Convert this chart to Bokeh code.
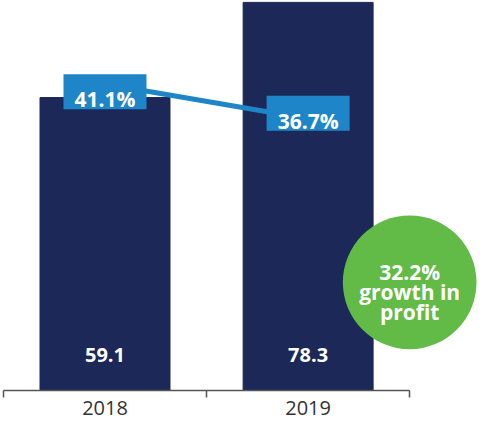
from bokeh.plotting import figure
from bokeh.models import Range1d, FixedTicker
from bokeh.embed import file_html
from bokeh.resources import INLINE
from bokeh.core.properties import value

# ---- data ----
years = ["2018", "2019"]
revenue = [59.1, 78.3]
margin = [41.1, 36.7]
margin_labels = ["41.1%", "36.7%"]
revenue_labels = ["59.1", "78.3"]
growth_lines = ["32.2%", "growth in", "profit"]

# ---- style ----
NAVY = "#1b2858"
BLUE = "#1e86c8"
GREEN = "#62ba47"
FONT = value("Open Sans")

x_pos = [0.5, 1.5]          # category centres
FRAME_H_EST = 390
PCT_RANGE = (2.47, 51.61)
pct_px = FRAME_H_EST / (PCT_RANGE[1] - PCT_RANGE[0])
box_shift_px = [7.8, -5.7]   # label boxes sit slightly off the line points
box_y = [m - s / pct_px for m, s in zip(margin, box_shift_px)]

p = figure(width=477, height=424,
           output_backend="svg", toolbar_location=None,
           x_range=Range1d(-0.0145, 2.334), y_range=Range1d(0, 78.68),
           min_border=0, min_border_bottom=34, outline_line_color=None,
           y_axis_location=None, background_fill_color=None,
           border_fill_color=None)
p.extra_y_ranges = {"pct": Range1d(*PCT_RANGE)}
p.grid.visible = False

ax = p.xaxis[0]
ax.ticker = FixedTicker(ticks=x_pos, minor_ticks=[0, 1, 2])
ax.major_label_overrides = dict(zip(x_pos, years))
ax.bounds = (0, 2)
ax.major_tick_out = 0
ax.major_tick_in = 0
ax.minor_tick_out = 7
ax.minor_tick_in = 0
ax.minor_tick_line_color = "#555555"
ax.minor_tick_line_width = 1.5
ax.axis_line_color = "#555555"
ax.axis_line_width = 1.5
ax.major_label_text_font = "Open Sans"
ax.major_label_text_font_size = "20px"
ax.major_label_text_color = "#333333"
ax.major_label_standoff = 3

# bars
p.vbar(x=x_pos, top=revenue, width=0.64, color=NAVY)

# bar value labels
p.text(x=x_pos, y=[0, 0], text=revenue_labels, y_offset=-36,
       text_align="center", text_baseline="alphabetic",
       text_font=FONT, text_font_style="bold", text_font_size="20px",
       text_color="white")

# margin line + labels
p.line(x=x_pos, y=margin, y_range_name="pct", line_color=BLUE, line_width=5)
p.rect(x=x_pos, y=box_y, width=83, height=35, width_units="screen",
       height_units="screen", y_range_name="pct", fill_color=BLUE,
       line_color=None)
p.text(x=x_pos, y=box_y, text=margin_labels, y_range_name="pct", y_offset=7.5,
       text_align="center", text_baseline="alphabetic",
       text_font=FONT, text_font_style="bold", text_font_size="21px",
       text_color="white")

# growth bubble
cx, cy, r = 2.0, 21.82, 0.329
p.circle(x=[cx], y=[cy], radius=r, fill_color=GREEN, line_color=None)
p.text(x=[cx] * 3, y=[cy] * 3, text=growth_lines, y_offset=[-10.3, 9.8, 29.4],
       text_align="center", text_baseline="alphabetic",
       text_font=FONT, text_font_style="bold", text_font_size="21px",
       text_color="white")

open("out.html", "w").write(file_html(p, INLINE))
